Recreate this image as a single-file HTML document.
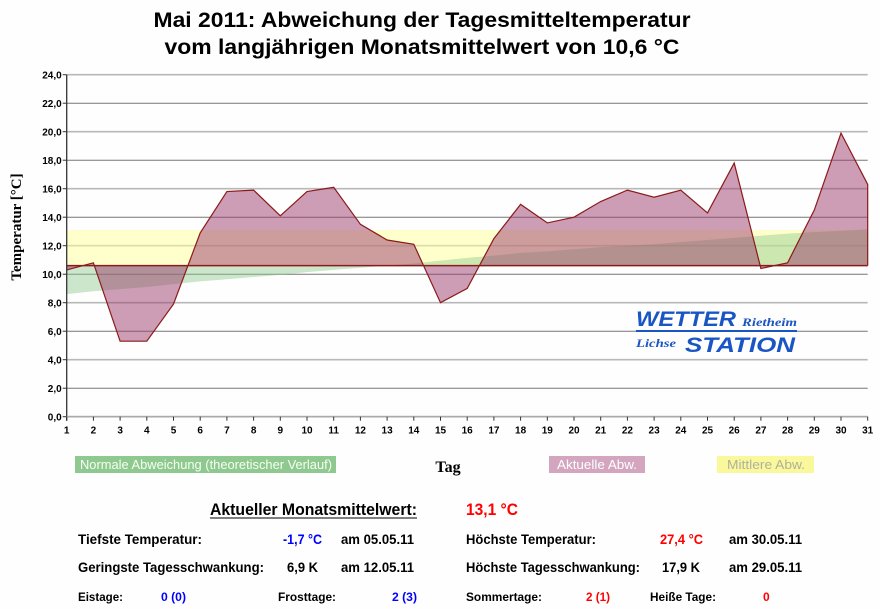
<!DOCTYPE html>
<html><head><meta charset="utf-8"><style>
html,body{margin:0;padding:0;background:#fefefe;}
svg{display:block;font-family:"Liberation Sans Narrow","Liberation Sans",sans-serif;}
</style></head><body>
<svg id="c" width="880" height="609" viewBox="0 0 880 609" xmlns="http://www.w3.org/2000/svg">
<rect width="880" height="609" fill="#fefefe"/>
<text x="422" y="27" text-anchor="middle" font-size="21" font-weight="bold" textLength="537" lengthAdjust="spacingAndGlyphs">Mai 2011: Abweichung der Tagesmitteltemperatur</text>
<text x="422" y="54" text-anchor="middle" font-size="21" font-weight="bold" textLength="515" lengthAdjust="spacingAndGlyphs">vom langjährigen Monatsmittelwert von 10,6 °C</text>
<g id="grid"></g>
<g id="areas"></g>
<g id="axes"></g>
<text transform="translate(21,227) rotate(-90)" text-anchor="middle" font-family="Liberation Serif,serif" font-size="15" font-weight="bold">Temperatur [°C]</text>
<text x="448" y="472" text-anchor="middle" font-family="Liberation Serif,serif" font-size="16" font-weight="bold">Tag</text>
<g fill="#1a55c4" font-family="Liberation Sans,sans-serif" font-style="italic" font-weight="bold">
<text x="636" y="326" font-size="21" textLength="100" lengthAdjust="spacingAndGlyphs">WETTER</text>
<text x="742" y="326" font-size="12" font-family="Liberation Serif,serif" textLength="55" lengthAdjust="spacingAndGlyphs">Rietheim</text>
<rect x="636" y="330" width="161" height="2"/>
<text x="636" y="347" font-size="12" font-family="Liberation Serif,serif" textLength="40" lengthAdjust="spacingAndGlyphs">Lichse</text>
<text x="685" y="352" font-size="21" textLength="110" lengthAdjust="spacingAndGlyphs">STATION</text>
</g>
<g font-size="13" fill="#fff">
<rect x="75" y="456" width="261" height="17" fill="#8fc98f"/>
<text x="80" y="469" fill="#f4fff4" textLength="252" lengthAdjust="spacingAndGlyphs">Normale Abweichung (theoretischer Verlauf)</text>
<rect x="549" y="456" width="96" height="17" fill="#d3a5bf"/>
<text x="557" y="469" fill="#fff" textLength="80" lengthAdjust="spacingAndGlyphs">Aktuelle Abw.</text>
<rect x="717" y="456" width="97" height="17" fill="#f9f99c"/>
<text x="727" y="469" fill="#b0b0a0" textLength="78" lengthAdjust="spacingAndGlyphs">Mittlere Abw.</text>
</g>
<g font-size="14" font-weight="bold" lengthAdjust="spacingAndGlyphs">
<text x="210" y="515" font-size="17" textLength="207" lengthAdjust="spacingAndGlyphs">Aktueller Monatsmittelwert:</text>
<line x1="210" y1="518" x2="417" y2="518" stroke="#000" stroke-width="1"/>
<text x="466" y="515" font-size="17" fill="#ff0000" textLength="52" lengthAdjust="spacingAndGlyphs">13,1 °C</text>
<text x="78" y="544" textLength="124" lengthAdjust="spacingAndGlyphs">Tiefste Temperatur:</text>
<text x="283" y="544" fill="#0000ff" textLength="39" lengthAdjust="spacingAndGlyphs">-1,7 °C</text>
<text x="341" y="544" textLength="73" lengthAdjust="spacingAndGlyphs">am 05.05.11</text>
<text x="466" y="544" textLength="130" lengthAdjust="spacingAndGlyphs">Höchste Temperatur:</text>
<text x="660" y="544" fill="#ff0000" textLength="43" lengthAdjust="spacingAndGlyphs">27,4 °C</text>
<text x="729" y="544" textLength="73" lengthAdjust="spacingAndGlyphs">am 30.05.11</text>
<text x="78" y="572" textLength="186" lengthAdjust="spacingAndGlyphs">Geringste Tagesschwankung:</text>
<text x="287" y="572" textLength="31" lengthAdjust="spacingAndGlyphs">6,9 K</text>
<text x="341" y="572" textLength="73" lengthAdjust="spacingAndGlyphs">am 12.05.11</text>
<text x="466" y="572" textLength="174" lengthAdjust="spacingAndGlyphs">Höchste Tagesschwankung:</text>
<text x="662" y="572" textLength="38" lengthAdjust="spacingAndGlyphs">17,9 K</text>
<text x="729" y="572" textLength="73" lengthAdjust="spacingAndGlyphs">am 29.05.11</text>
<g font-size="12">
<text x="78" y="601" textLength="45" lengthAdjust="spacingAndGlyphs">Eistage:</text>
<text x="161" y="601" fill="#0000ff" textLength="25" lengthAdjust="spacingAndGlyphs">0 (0)</text>
<text x="278" y="601" textLength="58" lengthAdjust="spacingAndGlyphs">Frosttage:</text>
<text x="392" y="601" fill="#0000ff" textLength="25" lengthAdjust="spacingAndGlyphs">2 (3)</text>
<text x="466" y="601" textLength="76" lengthAdjust="spacingAndGlyphs">Sommertage:</text>
<text x="586" y="601" fill="#ff0000" textLength="24" lengthAdjust="spacingAndGlyphs">2 (1)</text>
<text x="650" y="601" textLength="66" lengthAdjust="spacingAndGlyphs">Heiße Tage:</text>
<text x="763" y="601" fill="#ff0000">0</text>
</g>
</g>
</svg>
<script>
const days = [1,2,3,4,5,6,7,8,9,10,11,12,13,14,15,16,17,18,19,20,21,22,23,24,25,26,27,28,29,30,31];
const actual = [10.3,10.8,5.3,5.3,7.9,12.9,15.8,15.9,14.1,15.8,16.1,13.5,12.4,12.1,8.0,9.0,12.5,14.9,13.6,14.0,15.1,15.9,15.4,15.9,14.3,17.8,10.4,10.8,14.5,19.9,16.3];
const normal = [8.6,8.8,8.95,9.1,9.3,9.5,9.65,9.8,9.95,10.15,10.3,10.45,10.6,10.75,10.95,11.15,11.3,11.5,11.6,11.75,11.9,12.0,12.1,12.25,12.4,12.55,12.7,12.85,12.95,13.05,13.15];
const yTicks = [0,2,4,6,8,10,12,14,16,18,20,22,24];
const baseline = 10.6;
const monthMean = 13.1;

const NS="http://www.w3.org/2000/svg";
const X0=66.7,X1=867.7,Y0=416.7,YTOP=74.7;
const xS=d=>X0+(d-1)*(X1-X0)/30;
const yS=v=>Y0-v*(Y0-YTOP)/24;
function mk(tag,attrs,parent){const e=document.createElementNS(NS,tag);for(const k in attrs)e.setAttribute(k,attrs[k]);parent.appendChild(e);return e;}
const grid=document.getElementById('grid'),areas=document.getElementById('areas'),axes=document.getElementById('axes');
yTicks.forEach((t,i)=>{
  const g=mk('line',{x1:X0,x2:X1,y1:yS(t),y2:yS(t),stroke:i%2===0?'#b8b8b8':'#777','stroke-width':i%2===0?1.6:1},grid);
  
  
  const tl=mk('text',{x:X0-5,y:yS(t)+4,'text-anchor':'end','font-size':10,'font-weight':'bold','font-family':'Liberation Sans,sans-serif'},axes);
  tl.textContent=t.toFixed(1).replace('.',',');
  
  
  mk('line',{x1:X0-4,x2:X0,y1:yS(t),y2:yS(t),stroke:'#333'},axes);
});
const yb=mk('rect',{x:X0,y:yS(monthMean),width:X1-X0,height:yS(baseline)-yS(monthMean),fill:'#ffff99','fill-opacity':0.5},areas);


let gp='M'+xS(days[0])+','+yS(baseline);
days.forEach((d,i)=>gp+=' L'+xS(d)+','+yS(normal[i]));
gp+=' L'+xS(days[days.length-1])+','+yS(baseline)+'Z';
const ga=mk('path',{d:gp,fill:'#8fc98f','fill-opacity':0.45},areas);


let ap='M'+xS(days[0])+','+yS(baseline);
days.forEach((d,i)=>ap+=' L'+xS(d)+','+yS(actual[i]));
ap+=' L'+xS(days[days.length-1])+','+yS(baseline)+'Z';
const aa=mk('path',{d:ap,fill:'#9a3c6c','fill-opacity':0.5,stroke:'none'},areas);


let lp='';
days.forEach((d,i)=>lp+=(i?' L':'M')+xS(d)+','+yS(actual[i]));
lp+=' L'+xS(days[days.length-1])+','+yS(baseline);
const al=mk('path',{d:lp,fill:'none',stroke:'#8b1a1a','stroke-width':1.2},areas);


const bl=mk('line',{x1:X0,x2:X1,y1:yS(baseline),y2:yS(baseline),stroke:'#8b1a1a','stroke-width':1.5},areas);


mk('line',{x1:X0,x2:X0,y1:YTOP,y2:Y0+4,stroke:'#333','stroke-width':1.3},axes);
mk('line',{x1:X0,x2:X1,y1:Y0,y2:Y0,stroke:'#aaa','stroke-width':1.6},axes);
days.forEach(d=>{
  mk('line',{x1:xS(d),x2:xS(d),y1:Y0,y2:Y0+4,stroke:'#333'},axes);
  const t=mk('text',{x:xS(d),y:Y0+17,'text-anchor':'middle','font-size':10,'font-weight':'bold','font-family':'Liberation Sans,sans-serif'},axes);
  t.textContent=d;
  
  
});
</script>
</body></html>
